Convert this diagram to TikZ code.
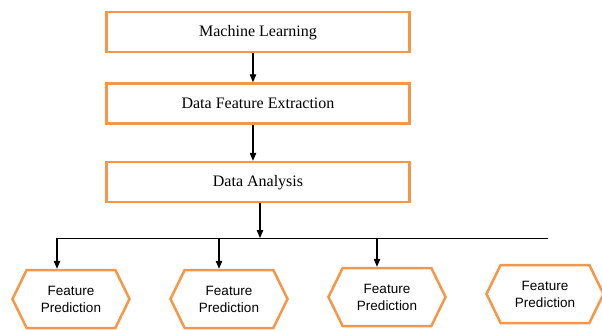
\documentclass[tikz,border=0pt]{standalone}
\usepackage{fontspec}
\setmainfont{Liberation Serif}
\newfontfamily\predfont{Liberation Sans}
\usetikzlibrary{arrows.meta,shapes.symbols}
\definecolor{boxorange}{HTML}{F79646}

\begin{document}
\begin{tikzpicture}[x=1pt,y=-1pt]
  \tikzstyle{stage}=[draw=boxorange,line width=2.5pt,minimum width=303pt,minimum height=40pt,inner sep=0pt,text height=11pt,text depth=2pt,font=\fontsize{16}{19}\selectfont]
  \tikzstyle{pred}=[draw=boxorange,line width=2.5pt,signal,signal to=west and east,signal pointer angle=128,minimum width=117pt,minimum height=58pt,inner sep=0pt,align=center,font=\predfont\fontsize{13.5}{17}\selectfont]
  \tikzstyle{link}=[-{Triangle[length=8pt,width=6.5pt]},line width=1.1pt]
  \useasboundingbox (0,0) rectangle (602,330);
  \node[stage] (ml) at (258,32) {Machine Learning};
  \node[stage] (dfe) at (258,103.5) {Data Feature Extraction};
  \node[stage] (da) at (258,182) {Data Analysis};
  \node[pred] (fp1) at (71,299) {Feature\\Prediction};
  \node[pred] (fp2) at (229,299) {Feature\\Prediction};
  \node[pred] (fp3) at (387,297) {Feature\\Prediction};
  \node[pred] (fp4) at (545,294) {Feature\\Prediction};
  \coordinate (busL) at (57,238);
  \coordinate (busR) at (548,238);
  \draw[link] ([xshift=-5pt]ml.south) -- ([xshift=-5pt]dfe.north);
  \draw[link] ([xshift=-5pt]dfe.south) -- ([xshift=-5pt]da.north);
  \draw[link] ([xshift=2pt]da.south) -- ([xshift=2pt]da.south |- busL);
  \draw[line width=1pt] (busL) -- (busR);
  \draw[link] (busL) -- (busL |- fp1.north);
  \draw[link] ([xshift=-10pt]fp2.north |- busL) -- ([xshift=-10pt]fp2.north);
  \draw[link] ([xshift=-10pt]fp3.north |- busL) -- ([xshift=-10pt]fp3.north);
\end{tikzpicture}
\end{document}
